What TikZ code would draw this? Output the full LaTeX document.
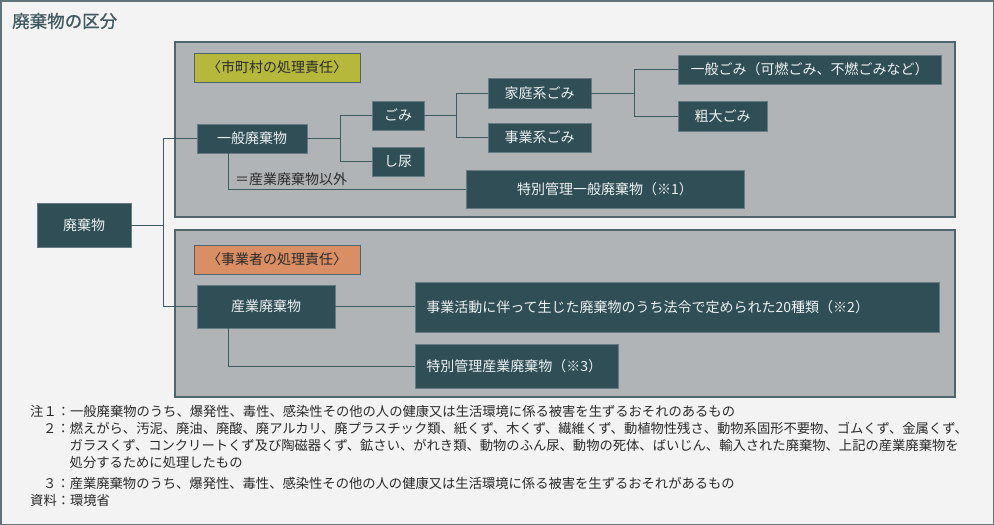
\documentclass[tikz,border=0pt]{standalone}
\usepackage{fontspec}
\setmainfont{Noto Sans CJK JP}
\newfontfamily\titlefont[FakeBold=0.8]{Noto Sans CJK JP}
\definecolor{bg}{HTML}{F3F3F3}
\definecolor{frame}{HTML}{5E737B}
\definecolor{panel}{HTML}{B1B4B6}
\definecolor{panelline}{HTML}{4F656C}
\definecolor{dark}{HTML}{2F4E56}
\definecolor{darkedge}{HTML}{667C84}
\definecolor{conn}{HTML}{3E5A61}
\definecolor{olive}{HTML}{B6B83C}
\definecolor{orangeL}{HTML}{D98F63}
\definecolor{titlec}{HTML}{3F5960}
\definecolor{txt}{HTML}{2A2A2A}
\definecolor{boxtxt}{HTML}{EEF2F2}
\tikzset{
  darkbox/.style={fill=dark, draw=darkedge, line width=0.8pt, text=boxtxt,
    font=\fontsize{14}{16}\selectfont, text height=12.3pt, text depth=1.7pt, inner sep=0pt},
  labelbox/.style={draw=panelline, line width=1pt, text=txt,
    font=\fontsize{14}{16}\selectfont, text height=12.3pt, text depth=1.7pt, inner sep=0pt},
  panelbox/.style={fill=panel, draw=panelline, line width=1.2pt},
  connline/.style={draw=conn, line width=1pt},
  notetext/.style={anchor=base west, inner sep=0pt, text=txt, font=\fontsize{13.3}{15}\selectfont},
}
\begin{document}
\begin{tikzpicture}[x=1pt,y=-1pt]
\useasboundingbox (0,0) rectangle (994,525);
\fill[bg] (0,0) rectangle (994,525);
\draw[frame, line width=1.5pt] (0.75,0.75) rectangle (993.25,524.25);

% title
\node[anchor=base west, inner sep=0pt, text=titlec, font=\fontsize{17.5}{20}\titlefont] (title) at (12,27.6) {廃棄物の区分};

% panels
\draw[panelbox] (175,42) rectangle (955,217);
\draw[panelbox] (175,230) rectangle (955,397);

% labels
\node[labelbox, fill=olive, minimum width=166pt, minimum height=29pt] (lab1) at (277,67.5) {〈市町村の処理責任〉};
\node[labelbox, fill=orangeL, minimum width=166pt, minimum height=29pt] (lab2) at (277,259.5) {〈事業者の処理責任〉};

% boxes
\node[darkbox, minimum width=94pt, minimum height=44pt] (haiki) at (84,225) {廃棄物};
\node[darkbox, minimum width=110pt, minimum height=29pt] (ippan) at (252,138.5) {一般廃棄物};
\node[darkbox, minimum width=52pt, minimum height=29pt] (gomi) at (398,115.5) {ごみ};
\node[darkbox, minimum width=52pt, minimum height=29pt] (shinyo) at (398,161.5) {し尿};
\node[darkbox, minimum width=103pt, minimum height=30pt] (katei) at (539.5,93) {家庭系ごみ};
\node[darkbox, minimum width=103pt, minimum height=29pt] (jigyo) at (539.5,137.5) {事業系ごみ};
\node[darkbox, minimum width=263pt, minimum height=29pt] (ippangomi) at (809.5,69.5) {一般ごみ（可燃ごみ、不燃ごみなど）};
\node[darkbox, minimum width=89pt, minimum height=30pt] (sodai) at (722.5,116) {粗大ごみ};
\node[darkbox, minimum width=278pt, minimum height=38pt] (toku1) at (605,189) {特別管理一般廃棄物（※1）};
\node[darkbox, minimum width=138pt, minimum height=43pt] (sangyo) at (266,306.5) {産業廃棄物};
\node[darkbox, anchor=west, inner xsep=11pt, text width=502pt, align=left, minimum height=50pt] (katsudo) at (415,307) {事業活動に伴って生じた廃棄物のうち法令で定められた20種類（※2）};
\node[darkbox, anchor=west, inner xsep=11pt, text width=181pt, align=left, minimum height=44pt] (toku3) at (415,366) {特別管理産業廃棄物（※3）};

\node[anchor=west, inner sep=0pt, text=txt, font=\fontsize{14}{16}\selectfont, text height=12.3pt, text depth=1.7pt] (igai) at (235,179) {＝産業廃棄物以外};

% connectors
\draw[connline] (haiki.east) -- ++(32,0) |- (ippan.west);
\draw[connline] (haiki.east) -- ++(32,0) |- (sangyo.west);
\draw[connline] (ippan.east) -- ++(33,0) |- (gomi.west);
\draw[connline] (ippan.east) -- ++(33,0) |- (shinyo.west);
\draw[connline] (gomi.east) -- ++(32,0) |- (katei.west);
\draw[connline] (gomi.east) -- ++(32,0) |- (jigyo.west);
\draw[connline] (katei.east) -- ++(43,0) |- (ippangomi.west);
\draw[connline] (katei.east) -- ++(43,0) |- (sodai.west);
\draw[connline] ([xshift=-24pt]ippan.south) |- (toku1.west);
\draw[connline] (sangyo.east) -- (sangyo.east -| katsudo.west);
\draw[connline] ([xshift=-38pt]sangyo.south) |- (toku3.west);

% notes
\node[notetext] (n1) at (30,416) {注１：一般廃棄物のうち、爆発性、毒性、感染性その他の人の健康又は生活環境に係る被害を生ずるおそれのあるもの};
\node[notetext] (n2) at (43,433) {２：燃えがら、汚泥、廃油、廃酸、廃アルカリ、廃プラスチック類、紙くず、木くず、繊維くず、動植物性残さ、動物系固形不要物、ゴムくず、金属くず、};
\node[notetext] (n3) at (69.5,450) {ガラスくず、コンクリートくず及び陶磁器くず、鉱さい、がれき類、動物のふん尿、動物の死体、ばいじん、輸入された廃棄物、上記の産業廃棄物を};
\node[notetext] (n4) at (69.5,467) {処分するために処理したもの};
\node[notetext] (n5) at (43,488) {３：産業廃棄物のうち、爆発性、毒性、感染性その他の人の健康又は生活環境に係る被害を生ずるおそれがあるもの};
\node[notetext] (n6) at (30,505) {資料：環境省};
\end{tikzpicture}
\end{document}
